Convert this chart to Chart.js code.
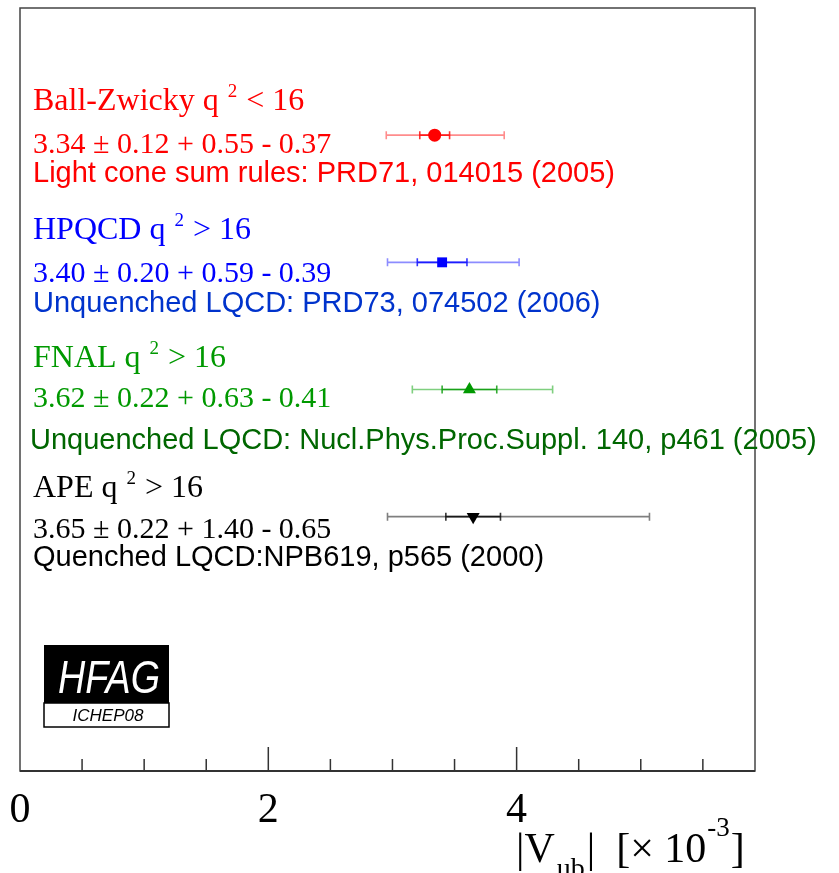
<!DOCTYPE html>
<html>
<head>
<meta charset="utf-8">
<script src="https://cdn.jsdelivr.net/npm/chart.js@4.4.1/dist/chart.umd.min.js"></script>
<style>
  html, body { margin: 0; padding: 0; background: #fff; }
  #chart { display: block; }
</style>
</head>
<body>
<canvas id="chart" width="839" height="873"></canvas>
<script>
// measurements, |Vub| x 10^-3
const names = ['Ball-Zwicky', 'HPQCD', 'FNAL', 'APE'];
const q2Cuts = ['< 16', '> 16', '> 16', '> 16'];
const central = [3.34, 3.40, 3.62, 3.65];
const statErr = [0.12, 0.20, 0.22, 0.22];
const systUp = [0.55, 0.59, 0.63, 1.40];
const systDown = [0.37, 0.39, 0.41, 0.65];
// outer error bar ends (stat + syst)
const totalLow = [2.95, 2.96, 3.16, 2.96];
const totalHigh = [3.90, 4.02, 4.29, 5.07];
const references = [
  'Light cone sum rules: PRD71, 014015 (2005)',
  'Unquenched LQCD: PRD73, 074502 (2006)',
  'Unquenched LQCD: Nucl.Phys.Proc.Suppl. 140, p461 (2005)',
  'Quenched LQCD:NPB619, p565 (2000)'
];
const rowPos = [5, 4, 3, 2];
const xTickLabels = [0, 2, 4];
const xMinorStep = 0.5;

// styling
const markers = ['circle', 'rect', 'triangle', 'triangle'];
const markerRot = [0, 0, 0, 180];
const markerSize = [6.5, 7, 7.5, 7.5];
const mainColor = ['#ff0000', '#0000ff', '#009900', '#000000'];
const refColor = ['#ff0000', '#0033cc', '#006600', '#000000'];
const outerBarColor = ['rgba(255,0,0,0.45)', 'rgba(0,0,255,0.45)', 'rgba(0,160,0,0.5)', 'rgba(0,0,0,0.5)'];
const innerBarColor = ['rgba(255,0,0,0.8)', 'rgba(0,0,255,0.8)', 'rgba(0,150,0,0.8)', 'rgba(0,0,0,0.8)'];
const titleY = [110, 239, 367, 497];
const valueY = [153, 282, 407, 538];
const refY = [182, 312, 449, 566];

const SERIF = '"Liberation Serif", "DejaVu Serif", serif';
const SANS = '"Liberation Sans", Arial, sans-serif';

const errorBars = {
  id: 'errorBars',
  beforeDatasetsDraw(chart) {
    const { ctx, scales: { x, y } } = chart;
    ctx.save();
    ctx.lineWidth = 1.6;
    central.forEach((c, i) => {
      const py = y.getPixelForValue(rowPos[i]);
      const lo = x.getPixelForValue(totalLow[i]);
      const hi = x.getPixelForValue(totalHigh[i]);
      const slo = x.getPixelForValue(c - statErr[i]);
      const shi = x.getPixelForValue(c + statErr[i]);
      ctx.strokeStyle = outerBarColor[i];
      ctx.beginPath();
      ctx.moveTo(lo, py); ctx.lineTo(hi, py);
      [lo, hi].forEach(px => { ctx.moveTo(px, py - 4); ctx.lineTo(px, py + 4); });
      ctx.stroke();
      ctx.strokeStyle = innerBarColor[i];
      ctx.beginPath();
      ctx.moveTo(slo, py); ctx.lineTo(shi, py);
      [slo, shi].forEach(px => { ctx.moveTo(px, py - 4); ctx.lineTo(px, py + 4); });
      ctx.stroke();
    });
    ctx.restore();
  }
};

const frameAndText = {
  id: 'frameAndText',
  afterDraw(chart) {
    const { ctx, chartArea: a, scales: { x } } = chart;
    ctx.save();

    // frame
    ctx.strokeStyle = '#444';
    ctx.lineWidth = 1.5;
    ctx.strokeRect(a.left, a.top, a.right - a.left, a.bottom - a.top);
    ctx.lineWidth = 2;
    ctx.strokeStyle = '#333';
    ctx.beginPath();
    ctx.moveTo(a.left, a.bottom); ctx.lineTo(a.right, a.bottom);
    ctx.stroke();

    // ticks
    ctx.lineWidth = 1.5;
    ctx.beginPath();
    for (let v = xMinorStep; v < x.max; v += xMinorStep) {
      const px = x.getPixelForValue(v);
      const major = xTickLabels.includes(v);
      ctx.moveTo(px, a.bottom);
      ctx.lineTo(px, a.bottom - (major ? 24 : 12));
    }
    ctx.stroke();

    ctx.fillStyle = '#000';
    ctx.font = '42px ' + SERIF;
    ctx.textAlign = 'center';
    ctx.textBaseline = 'alphabetic';
    xTickLabels.forEach(v => {
      ctx.fillText(String(v), x.getPixelForValue(v), 822);
    });

    // axis title |Vub| [x 10^-3]
    ctx.textAlign = 'left';
    let tx = 516;
    ctx.font = '42px ' + SERIF;
    ctx.fillText('|V', tx, 862);
    tx += ctx.measureText('|V').width + 2;
    ctx.font = '28px ' + SERIF;
    ctx.fillText('ub', tx, 877);
    tx += ctx.measureText('ub').width + 2;
    ctx.font = '42px ' + SERIF;
    ctx.fillText('|  [\u00d7 10', tx, 862);
    tx += ctx.measureText('|  [\u00d7 10').width + 1;
    ctx.font = '27px ' + SERIF;
    ctx.fillText('-3', tx, 836);
    tx += ctx.measureText('-3').width + 1;
    ctx.font = '42px ' + SERIF;
    ctx.fillText(']', tx, 862);

    // labels for each measurement
    names.forEach((n, i) => {
      ctx.fillStyle = mainColor[i];
      let lx = 33;
      ctx.font = '32px ' + SERIF;
      ctx.fillText(n + ' q', lx, titleY[i]);
      lx += ctx.measureText(n + ' q').width + 9;
      ctx.font = '19px ' + SERIF;
      ctx.fillText('2', lx, titleY[i] - 13);
      lx += ctx.measureText('2').width + 9;
      ctx.font = '32px ' + SERIF;
      ctx.fillText(q2Cuts[i], lx, titleY[i]);

      ctx.font = '30px ' + SERIF;
      const val = central[i].toFixed(2) + ' \u00b1 ' + statErr[i].toFixed(2) +
        ' + ' + systUp[i].toFixed(2) + ' - ' + systDown[i].toFixed(2);
      ctx.fillText(val, 33, valueY[i]);

      ctx.fillStyle = refColor[i];
      ctx.font = '29px ' + SANS;
      ctx.fillText(references[i], i === 2 ? 30 : 33, refY[i]);
    });

    // HFAG logo
    ctx.fillStyle = '#000';
    ctx.fillRect(44, 645, 125, 58);
    ctx.fillStyle = '#fff';
    ctx.fillRect(44, 703, 125, 24);
    ctx.strokeStyle = '#000';
    ctx.lineWidth = 1.5;
    ctx.strokeRect(44, 703, 125, 24);
    ctx.save();
    ctx.translate(109, 693);
    ctx.scale(0.82, 1);
    ctx.font = 'italic 46px ' + SANS;
    ctx.textAlign = 'center';
    ctx.fillStyle = '#fff';
    ctx.fillText('HFAG', 0, 0);
    ctx.restore();
    ctx.fillStyle = '#000';
    ctx.font = 'italic 17px ' + SANS;
    ctx.textAlign = 'center';
    ctx.fillText('ICHEP08', 108, 721);

    ctx.restore();
  }
};

new Chart(document.getElementById('chart'), {
  type: 'scatter',
  data: {
    datasets: names.map((n, i) => ({
      label: n,
      data: [{ x: central[i], y: rowPos[i] }],
      pointStyle: markers[i],
      rotation: markerRot[i],
      radius: markerSize[i],
      backgroundColor: mainColor[i],
      borderColor: mainColor[i],
      borderWidth: 0
    }))
  },
  options: {
    responsive: false,
    animation: false,
    layout: { padding: { left: 20, top: 8, right: 84, bottom: 102 } },
    plugins: { legend: { display: false }, tooltip: { enabled: false } },
    scales: {
      x: { type: 'linear', min: 0, max: 5.92, display: false },
      y: { type: 'linear', min: 0, max: 6, display: false }
    }
  },
  plugins: [errorBars, frameAndText]
});
</script>
</body>
</html>
